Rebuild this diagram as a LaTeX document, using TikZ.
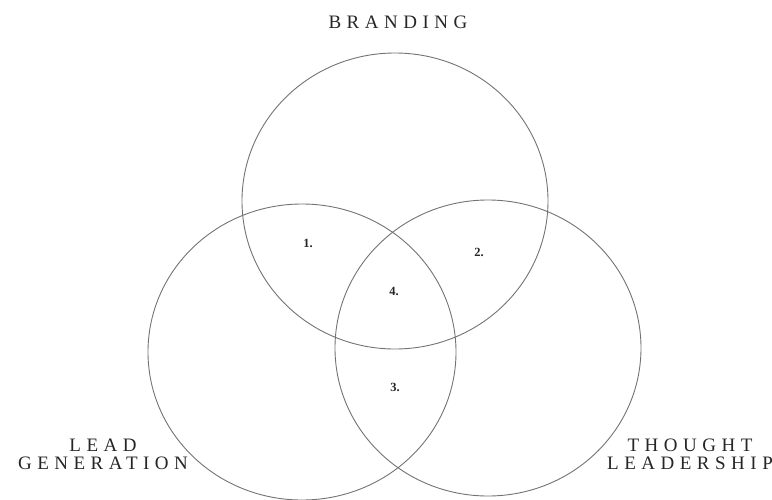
\documentclass[tikz,border=0pt]{standalone}
\usepackage{fontspec}
\setmainfont{Liberation Serif}
\newfontfamily\spacedfont[LetterSpace=29]{Liberation Serif}
\begin{document}
\begin{tikzpicture}[x=1pt,y=-1pt,
  ring/.style={draw=black!55, line width=0.9pt},
  caption/.style={text=black!85, font=\spacedfont\fontsize{19}{18}\selectfont, align=center, inner sep=0pt},
  num/.style={text=black!85, font=\bfseries\fontsize{12.5}{14}\selectfont, inner sep=0pt}]
\useasboundingbox (0,0) rectangle (772,499);
\path[ring] (395,201) coordinate (ct) ellipse [x radius=153, y radius=148];
\path[ring] (302,352) coordinate (cl) ellipse [x radius=154, y radius=148];
\path[ring] (488,348) coordinate (cr) ellipse [x radius=153, y radius=148];
\node[caption] (brand) at (398,22) {BRANDING};
\node[caption, anchor=north] (lead) at (103,439) {LEAD\\GENERATION};
\node[caption, anchor=north] (thought) at (690,439) {THOUGHT\\LEADERSHIP};
\node[num] (n1) at (308,243) {1.};
\node[num] (n2) at (479,252) {2.};
\node[num] (n4) at (394,291) {4.};
\node[num] (n3) at (395,387) {3.};
\end{tikzpicture}
\end{document}
